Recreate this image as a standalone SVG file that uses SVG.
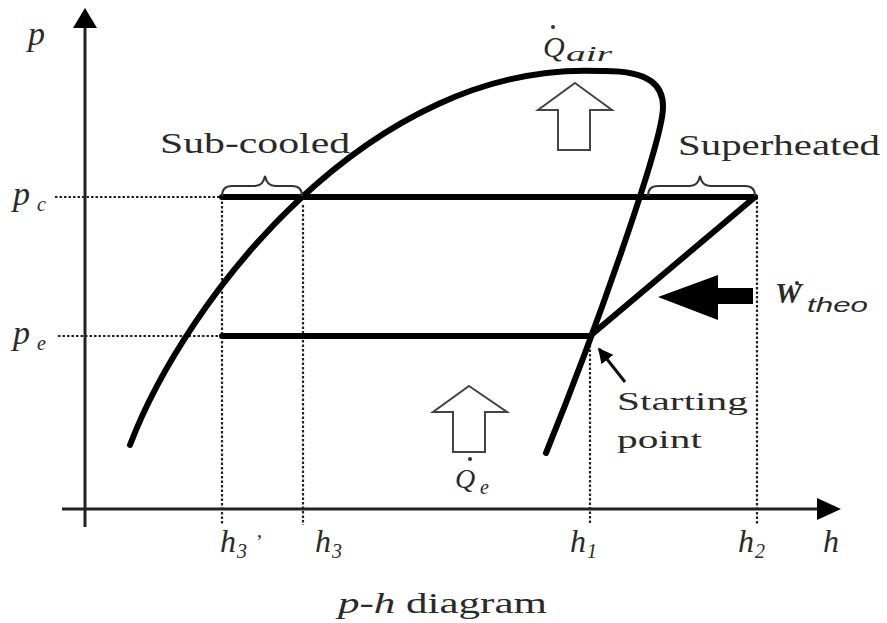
<svg xmlns="http://www.w3.org/2000/svg" width="887" height="623" viewBox="0 0 887 623">
<style>
.t{font-family:"Liberation Serif",serif;fill:#2a2a2a}
.i{font-style:italic}
.dot{stroke:#222;stroke-width:2.2;stroke-dasharray:2.5 2;fill:none}
.thick{stroke:#000;stroke-width:6;fill:none;stroke-linecap:round;stroke-linejoin:round}
.brace{stroke:#333;stroke-width:2;fill:none}
.open{fill:#fff;stroke:#444;stroke-width:2}
</style>
<defs>
<marker id="ah" viewBox="0 0 10 10" refX="9" refY="5" markerWidth="5" markerHeight="5" orient="auto-start-reverse" markerUnits="strokeWidth">
<path d="M0,0 L10,5 L0,10 z" fill="#000"/>
</marker>
</defs>
<rect width="887" height="623" fill="#fff"/>
<g id="axes">
<line x1="85" y1="527" x2="85" y2="26" stroke="#222" stroke-width="3"/>
<path d="M85,8 L97,28 L73,28 z" fill="#000"/>
<line x1="62" y1="509" x2="820" y2="509" stroke="#222" stroke-width="3"/>
<path d="M841,509 L817,498 L817,520 z" fill="#000"/>
</g>
<g id="connectors">
<line class="dot" x1="55" y1="197" x2="222" y2="197"/>
<line class="dot" x1="58" y1="336" x2="222" y2="336"/>
<line class="dot" x1="222" y1="197" x2="222" y2="525"/>
<line class="dot" x1="303" y1="205" x2="303" y2="525"/>
<line class="dot" x1="590" y1="345" x2="590" y2="525"/>
<line class="dot" x1="757" y1="197" x2="757" y2="525"/>
<path class="thick" d="M130,445 C185,300 370,60 600,71 C648,70 668,84 662,117 C655,160 600,320 546,453"/>
<line class="thick" x1="222" y1="197" x2="755" y2="197"/>
<line class="thick" x1="222" y1="336" x2="590" y2="336"/>
<line class="thick" x1="590" y1="336" x2="755" y2="197"/>
<path class="brace" d="M222,196 q0,-10 10,-10 L255,186 q8,0 10,-10 q2,10 10,10 L292,186 q10,0 10,10"/>
<path class="brace" d="M648,196 q0,-10 10,-10 L690,186 q8,0 10,-10 q2,10 10,10 L745,186 q10,0 10,10"/>
<line x1="625" y1="382" x2="599" y2="349" stroke="#111" stroke-width="3" marker-end="url(#ah)"/>
</g>
<g id="q-air-arrow"><path class="open" d="M575,83 L612,110 L590,110 L590,150 L558,150 L558,110 L538,110 z"/></g>
<g id="q-e-arrow"><path class="open" d="M469,386 L507,412 L485,412 L485,452 L453,452 L453,412 L433,412 z"/></g>
<g id="w-arrow"><path d="M658,297 L718,275 L718,288 L753,288 L753,304 L718,304 L718,320 z" fill="#000"/></g>
<g id="labels">
<text class="t i" x="28" y="45" font-size="34">p</text>
<text class="t i" x="13" y="205" font-size="34">p</text><text class="t i" x="37" y="211" font-size="20">c</text>
<text class="t i" x="13" y="344" font-size="34">p</text><text class="t i" x="37" y="350" font-size="20">e</text>
<text class="t" x="160" y="153" font-size="30" textLength="190" lengthAdjust="spacingAndGlyphs">Sub-cooled</text>
<text class="t" x="678" y="155" font-size="30" textLength="202" lengthAdjust="spacingAndGlyphs">Superheated</text>
<text class="t i" x="543" y="57" font-size="30">Q</text><text class="t i" x="566" y="61" font-size="22" textLength="46" lengthAdjust="spacingAndGlyphs">air</text>
<circle cx="553" cy="27" r="2" fill="#333"/>
<text class="t i" x="775" y="303" font-size="30" font-weight="bold">W</text>
<text x="807" y="312" font-size="21" font-family="Liberation Sans,sans-serif" font-style="italic" fill="#2a2a2a" textLength="61" lengthAdjust="spacingAndGlyphs">theo</text>
<circle cx="797" cy="283" r="2" fill="#333"/>
<text class="t" x="617" y="410" font-size="26" textLength="131" lengthAdjust="spacingAndGlyphs">Starting</text>
<text class="t" x="617" y="448" font-size="26" textLength="85" lengthAdjust="spacingAndGlyphs">point</text>
<text class="t i" x="455" y="488" font-size="28">Q</text><text class="t i" x="480" y="494" font-size="20">e</text>
<circle cx="470" cy="459" r="2" fill="#333"/>
<text class="t i" x="220" y="552" font-size="32">h</text><text class="t i" x="237" y="558" font-size="20">3</text><text class="t" x="256" y="549" font-size="20">’</text>
<text class="t i" x="315" y="552" font-size="32">h</text><text class="t i" x="332" y="558" font-size="20">3</text>
<text class="t i" x="570" y="552" font-size="32">h</text><text class="t i" x="587" y="558" font-size="20">1</text>
<text class="t i" x="738" y="552" font-size="32">h</text><text class="t i" x="755" y="558" font-size="20">2</text>
<text class="t i" x="823" y="552" font-size="32">h</text>
<text class="t" x="338" y="613" font-size="30" textLength="209" lengthAdjust="spacingAndGlyphs"><tspan font-style="italic">p-h</tspan> diagram</text>
</g>
</svg>
